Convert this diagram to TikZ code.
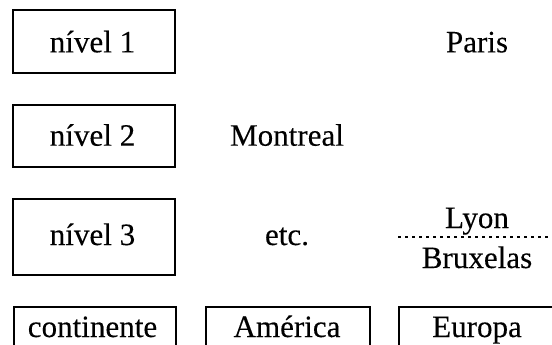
\documentclass[tikz,border=0pt]{standalone}
\usepackage{fontspec}
\setmainfont[FakeBold=0.2]{Liberation Serif}
\begin{document}
\begin{tikzpicture}[x=0.75pt,y=-0.75pt,
  box/.style={draw,line width=1.5pt,inner sep=0pt},
  lbl/.style={anchor=base,inner sep=0pt,font=\fontsize{23.3}{26}\selectfont}]
\useasboundingbox (0,0) rectangle (552,344);
\clip (0,0) rectangle (552,344);
% left column boxes
\node[box,minimum width=162*0.75pt,minimum height=63*0.75pt] (b1) at (94,41.5) {};
\node[box,minimum width=162*0.75pt,minimum height=62*0.75pt] (b2) at (94,136) {};
\node[box,minimum width=162*0.75pt,minimum height=76*0.75pt] (b3) at (94,237) {};
\node[box,minimum width=162*0.75pt,minimum height=50*0.75pt,anchor=north west] (b4) at (13,306) {};
\node[box,minimum width=164*0.75pt,minimum height=50*0.75pt,anchor=north west] (b5) at (205,306) {};
\node[box,minimum width=170*0.75pt,minimum height=50*0.75pt,anchor=north west] (b6) at (398,306) {};
% texts
\node[lbl] (t1) at (92.5,52.3) {nível 1};
\node[lbl] (t2) at (92.5,145.7) {nível 2};
\node[lbl] (t3) at (92.5,245) {nível 3};
\node[lbl] (t4) at (92.5,337) {continente};
\node[lbl] (paris) at (477,52.3) {Paris};
\node[lbl] (mont) at (287,145.7) {Montreal};
\node[lbl] (etc) at (287,245) {etc.};
\node[lbl] (lyon) at (477,228) {Lyon};
\node[lbl] (brux) at (477,268) {Bruxelas};
\node[lbl] (amer) at (287,337) {América};
\node[lbl] (eur) at (477,337) {Europa};
% dotted divider
\coordinate (d1) at (398,237);
\coordinate (d2) at (552,237);
\draw[line width=1.2pt,dash pattern=on 2.25pt off 3pt] (d1) -- (d2);
\end{tikzpicture}
\end{document}
